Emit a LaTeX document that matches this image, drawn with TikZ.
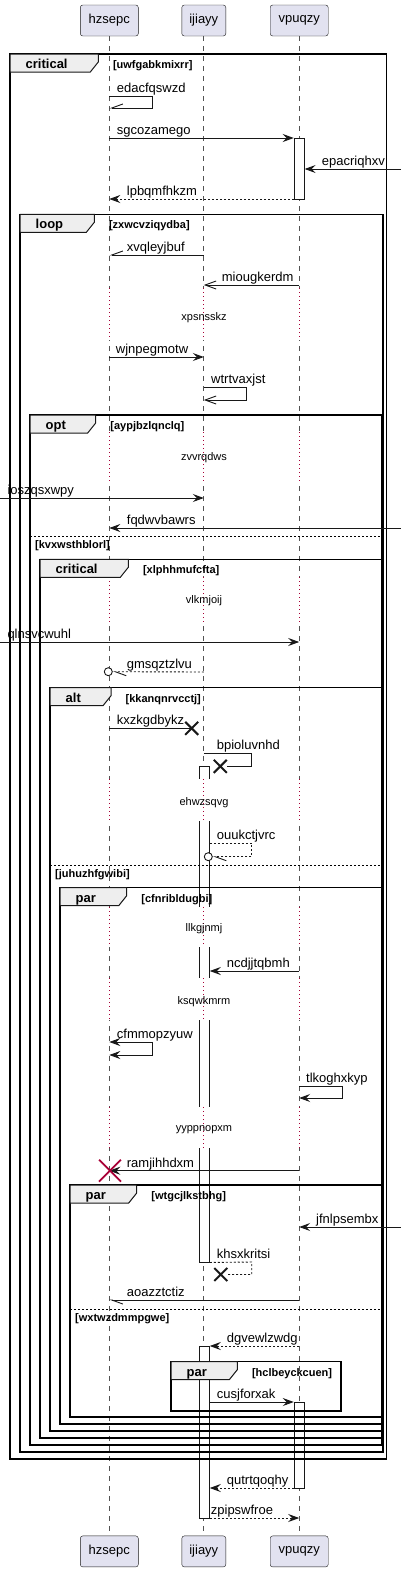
\documentclass[tikz,border=0pt]{standalone}
\usepackage{fontspec}
\setmainfont{Liberation Sans}
\usepackage{tikz}
\usetikzlibrary{arrows.meta,shapes.misc,positioning}
\definecolor{partfill}{HTML}{E2E2F0}
\definecolor{tabfill}{HTML}{EEEEEE}
\definecolor{delayred}{HTML}{A80036}
\definecolor{umlline}{HTML}{181818}
% combined fragment: name, x0, y0, x1, y1, tab end, kind, guard
\newcommand{\umlframe}[8]{%
  \draw[frame] (#2,#3) rectangle (#4,#5);
  \draw[tab] (#2,#3) -- (#6,#3) -- (#6,#3+8) -- (#6-8,#3+18) -- (#2,#3+18) -- cycle;
  \node[kind] (#1) at (#2+15.5,#3+14.5) {#7};
  \node[guard] (#1-guard) at (#6+14.5,#3+14.5) {[#8]};
}

\begin{document}
\begin{tikzpicture}[x=1pt,y=-1pt,font=\fontsize{13}{15}\selectfont]
    \tikzstyle{participant}=[draw=umlline,fill=partfill,rounded corners=2.5pt,minimum width=58pt,minimum height=31pt,inner sep=0pt]
    \tikzstyle{lifeline}=[draw=umlline!75,dash pattern=on 5pt off 5pt,line width=0.7pt]
    \tikzstyle{delayline}=[draw=delayred,dash pattern=on 1pt off 3pt,line width=0.8pt]
    \tikzstyle{frame}=[draw=black,line width=1.5pt]
    \tikzstyle{tab}=[draw=umlline,fill=tabfill,line width=1pt]
    \tikzstyle{kind}=[anchor=base west,inner sep=0pt,font=\fontsize{13}{15}\selectfont\bfseries]
    \tikzstyle{guard}=[anchor=base west,inner sep=0pt,font=\fontsize{11}{13}\selectfont\bfseries]
    \tikzstyle{elseline}=[draw=black,line width=0.9pt,dash pattern=on 2pt off 2pt]
    \tikzstyle{lbl}=[anchor=base west,inner sep=0pt]
    \tikzstyle{delaytxt}=[anchor=base,inner sep=0pt,font=\fontsize{11}{13}\selectfont]
    \tikzstyle{activation}=[draw=umlline,fill=white,line width=0.9pt,minimum width=10pt,inner sep=0pt]
    \tikzstyle{msg}=[draw=umlline,line width=0.9pt]
    \tikzstyle{retmsg}=[msg,dash pattern=on 2pt off 2pt]
    \tikzstyle{syncmsg}=[-{Stealth[length=11pt,width=8pt,inset=4pt]}]
    \tikzstyle{bothsync}=[{Stealth[length=11pt,width=8pt,inset=4pt]}-{Stealth[length=11pt,width=8pt,inset=4pt]}]
    \tikzstyle{asyncmsg}=[-{Straight Barb[length=11pt,width=8pt]}]
    \tikzstyle{barbup}=[-{Straight Barb[right,length=11pt,width=8pt]}]
    \tikzstyle{barbdown}=[-{Straight Barb[left,length=11pt,width=8pt]}]
    \tikzstyle{killx}=[cross out,draw=umlline,line width=2pt,minimum size=11pt,inner sep=0pt]
    \tikzstyle{destroyx}=[cross out,draw=delayred,line width=1.8pt,minimum size=20pt,inner sep=0pt]
    \tikzstyle{lostcircle}=[circle,draw=umlline,fill=white,line width=0.9pt,minimum size=8pt,inner sep=0pt]

    \useasboundingbox (0,0) rectangle (401,1572);
    \coordinate (leftedge) at (0,0);
    \coordinate (rightedge) at (401,0);

    % participants
    \node[participant] (hz) at (109.3,20.5) {hzsepc};
    \node[participant,minimum width=44pt] (ij) at (203.8,20.5) {ijiayy};
    \node[participant] (vp) at (299.2,20.5) {vpuqzy};
    \node[participant] (hzF) at (109.3,1551.4) {hzsepc};
    \node[participant,minimum width=44pt] (ijF) at (203.8,1551.4) {ijiayy};
    \node[participant] (vpF) at (299.2,1551.4) {vpuqzy};

    \draw[lifeline] (hz.south) -- (hzF.north);
    \draw[lifeline] (ij.south) -- (ijF.north);
    \draw[lifeline] (vp.south) -- (vpF.north);

    % activations
    \node[activation,minimum height=61pt] (a1) at (299.2,168.5) {};
    \node[activation,minimum height=496pt] (a2) at (204.3,1014) {};
    \node[activation,minimum height=172pt] (a3) at (204.3,1432) {};
    \node[activation,minimum height=86pt] (a4) at (299.2,1445) {};

    % delays
    \foreach \ya/\yb/\yt/\txt in {288/340/320/xpsnsskz,432/482/460/zvvrqdws,577/623/603/vlkmjoij,779/821/805/ehwzsqvg,907/947/931/llkgjnmj,978/1020/1004/ksqwkmrm,1107/1148/1131.5/yyppnopxm}{
        \fill[white] (hz.south |- 0,\ya) ++(-2,0) rectangle ++(4,\yb-\ya);
        \fill[white] (ij.south |- 0,\ya) ++(-8,0) rectangle ++(16,\yb-\ya);
        \fill[white] (vp.south |- 0,\ya) ++(-2,0) rectangle ++(4,\yb-\ya);
        \foreach \p in {hz,ij,vp}
            \draw[delayline] (\p.south |- 0,\ya) -- (\p.south |- 0,\yb);
        \node[delaytxt] (d-\txt) at (204,\yt) {\txt};
    }

    % fragments
    \umlframe{f1}{10}{54}{386.7}{1459}{98.3}{critical}{uwfgabkmixrr}
    \umlframe{f2}{20}{214.3}{383.2}{1452}{94.3}{loop}{zxwcvziqydba}
    \umlframe{f3}{30}{415}{382}{1445}{95.7}{opt}{aypjbzlqnclq}
    \umlframe{f4}{40}{559.3}{382}{1438}{128.3}{critical}{xlphhmufcfta}
    \umlframe{f5}{50}{687.7}{382}{1431}{111}{alt}{kkanqnrvcctj}
    \umlframe{f6}{60}{887.7}{382}{1424}{126.7}{par}{cfnribldugbi}
    \umlframe{f7}{70}{1185}{382}{1417}{136.7}{par}{wtgcjlkstbhg}
    \umlframe{f8}{171}{1361.7}{341}{1411}{237.3}{par}{hclbeyckcuen}

    \draw[elseline] (30,536.7) -- (382,536.7);
    \node[guard] (e1) at (35,548.5) {[kvxwsthblorl]};
    \draw[elseline] (50,865) -- (382,865);
    \node[guard] (e2) at (55,877) {[juhuzhfgwibi]};
    \draw[elseline] (70,1309) -- (382,1309);
    \node[guard] (e3) at (75,1321) {[wxtwzdmmpgwe]};

    % messages
    \draw[msg,barbup] (hz.south |- 0,96) -- (152,96) -- (152,108) -- (hz.south |- 0,108);
    \node[lbl] (m1) at (116.7,92) {edacfqswzd};
    \draw[msg,syncmsg] (hz.south |- 0,138) -- (a1.west |- 0,138);
    \node[lbl] (m2) at (116.7,134) {sgcozamego};
    \draw[msg,syncmsg] (rightedge |- 0,169) -- (a1.east |- 0,169);
    \node[lbl] (m3) at (321.7,165) {epacriqhxv};
    \draw[retmsg,syncmsg] (a1.west |- 0,199) -- (hz.south |- 0,199);
    \node[lbl] (m4) at (126.7,195) {lpbqmfhkzm};

    \draw[msg,barbup] (ij.south |- 0,255) -- (hz.south |- 0,255);
    \node[lbl] (m5) at (126.7,251) {xvqleyjbuf};
    \draw[msg,asyncmsg] (vp.south |- 0,285) -- (ij.south |- 0,285);
    \node[lbl] (m6) at (221.7,281) {miougkerdm};
    \draw[msg,syncmsg] (hz.south |- 0,357) -- (ij.south |- 0,357);
    \node[lbl] (m7) at (115.7,353) {wjnpegmotw};
    \draw[msg,asyncmsg] (ij.south |- 0,387) -- (246,387) -- (246,400) -- (ij.south |- 0,400);
    \node[lbl] (m8) at (211,383) {wtrtvaxjst};

    \draw[msg,syncmsg] (leftedge |- 0,498) -- (ij.south |- 0,498);
    \node[lbl] (m9) at (7.3,494) {ioszqsxwpy};
    \draw[msg,syncmsg] (rightedge |- 0,528) -- (hz.south |- 0,528);
    \node[lbl] (m10) at (126.7,524) {fqdwvbawrs};

    \draw[msg,syncmsg] (leftedge |- 0,642) -- (vp.south |- 0,642);
    \node[lbl] (m11) at (7.3,638) {qlnsvcwuhl};
    \node[lostcircle] (c1) at (108.3,671.7) {};
    \draw[retmsg,barbdown] (ij.south |- 0,672) -- (c1.east);
    \node[lbl] (m12) at (126.7,668) {gmsqztzlvu};

    \node[killx] (x1) at (191.7,728.3) {};
    \draw[msg] (hz.south |- 0,728.3) -- (x1.center);
    \node[lbl] (m13) at (116.7,724) {kxzkgdbykz};
    \node[killx] (x2) at (220.3,766.3) {};
    \draw[msg] (ij.south |- 0,753) -- (251.7,753) -- (251.7,766.3) -- (x2.east);
    \node[lbl] (m14) at (216.7,749) {bpioluvnhd};

    \node[lostcircle] (c2) at (208.3,856.7) {};
    \draw[retmsg,barbdown] (a2.east |- 0,843) -- (251.7,843) -- (251.7,856.7) -- (c2.east);
    \node[lbl] (m15) at (216.7,839) {ouukctjvrc};

    \draw[msg,syncmsg] (vp.south |- 0,971) -- (a2.east |- 0,971);
    \node[lbl] (m16) at (226.7,967) {ncdjjtqbmh};
    \draw[msg,bothsync] (hz.south |- 0,1042) -- (152,1042) -- (152,1055) -- (hz.south |- 0,1055);
    \node[lbl] (m17) at (116.7,1038) {cfmmopzyuw};
    \draw[msg,syncmsg] (vp.south |- 0,1086) -- (342,1086) -- (342,1098) -- (vp.south |- 0,1098);
    \node[lbl] (m18) at (306,1082) {tlkoghxkyp};

    \draw[msg,syncmsg] (vp.south |- 0,1170.7) -- (hz.south |- 0,1170.7);
    \node[destroyx] (x3) at (110,1170.7) {};
    \node[lbl] (m19) at (126.7,1167) {ramjihhdxm};

    \draw[msg,syncmsg] (rightedge |- 0,1227) -- (vp.south |- 0,1227);
    \node[lbl] (m20) at (316,1223) {jfnlpsembx};
    \node[killx] (x4) at (220.8,1274.5) {};
    \draw[retmsg] (a2.south east) -- (251.7,1262) -- (251.7,1274.5) -- (x4.east);
    \node[lbl] (m21) at (216.7,1258) {khsxkritsi};
    \draw[msg,barbdown] (vp.south |- 0,1300) -- (hz.south |- 0,1300);
    \node[lbl] (m22) at (126.7,1296) {aoazztctiz};

    \draw[retmsg,syncmsg] (vp.south |- 0,1346) -- (a3.east |- 0,1346);
    \node[lbl] (m23) at (226.7,1342) {dgvewlzwdg};
    \draw[msg,syncmsg] (a3.east |- 0,1402) -- (a4.west |- 0,1402);
    \node[lbl] (m24) at (216.7,1398) {cusjforxak};
    \draw[retmsg,syncmsg] (a4.west |- 0,1488) -- (a3.east |- 0,1488);
    \node[lbl] (m25) at (226.7,1484) {qutrtqoqhy};
    \draw[retmsg,syncmsg] (a3.east |- 0,1518) -- (vp.south |- 0,1518);
    \node[lbl] (m26) at (210.7,1514) {zpipswfroe};
\end{tikzpicture}
\end{document}
